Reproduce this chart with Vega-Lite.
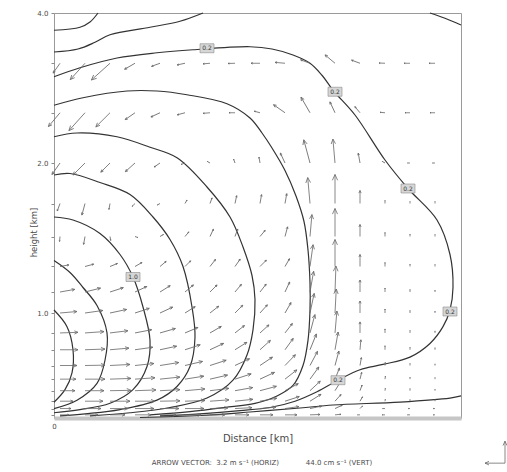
{
"$schema": "https://vega.github.io/schema/vega-lite/v6.json",
"width": 407,
"height": 405,
"autosize": {"type": "none"},
"padding": {"left": 54, "top": 13, "right": 46, "bottom": 54},
"background": "#ffffff",
"config": {"view": {"stroke": "#9a9a9a", "strokeWidth": 1}, "font": "DejaVu Sans"},
"datasets": {
"contours": [
{"c":"A","i":0,"x":0,"z":3.77},{"c":"A","i":1,"x":0.26,"z":3.81},{"c":"A","i":2,"x":0.36,"z":3.88},{"c":"A","i":3,"x":0.44,"z":4.0},
{"c":"B","i":0,"x":0,"z":3.48},{"c":"B","i":1,"x":0.24,"z":3.52},{"c":"B","i":2,"x":0.41,"z":3.61},{"c":"B","i":3,"x":0.56,"z":3.71},{"c":"B","i":4,"x":0.96,"z":3.81},{"c":"B","i":5,"x":1.26,"z":3.89},{"c":"B","i":6,"x":1.49,"z":4.0},
{"c":"C","i":0,"x":0,"z":3.15},{"c":"C","i":1,"x":0.26,"z":3.27},{"c":"C","i":2,"x":0.63,"z":3.40},{"c":"C","i":3,"x":1.03,"z":3.47},{"c":"C","i":4,"x":1.39,"z":3.51},{"c":"C","i":5,"x":1.96,"z":3.55},{"c":"C","i":6,"x":2.18,"z":3.52},{"c":"C","i":7,"x":2.39,"z":3.44},{"c":"C","i":8,"x":2.56,"z":3.33},{"c":"C","i":9,"x":2.68,"z":3.17},{"c":"C","i":10,"x":2.79,"z":2.97},{"c":"C","i":11,"x":3.01,"z":2.64},{"c":"C","i":12,"x":3.31,"z":2.04},{"c":"C","i":13,"x":3.54,"z":1.83},{"c":"C","i":14,"x":3.83,"z":1.62},{"c":"C","i":15,"x":3.96,"z":1.39},{"c":"C","i":16,"x":3.99,"z":1.17},{"c":"C","i":17,"x":3.96,"z":1.02},{"c":"C","i":18,"x":3.89,"z":0.87},{"c":"C","i":19,"x":3.76,"z":0.71},{"c":"C","i":20,"x":3.56,"z":0.58},{"c":"C","i":21,"x":3.29,"z":0.51},{"c":"C","i":22,"x":3.06,"z":0.46},{"c":"C","i":23,"x":2.84,"z":0.36},{"c":"C","i":24,"x":2.63,"z":0.25},{"c":"C","i":25,"x":2.41,"z":0.16},{"c":"C","i":26,"x":2.16,"z":0.10},{"c":"C","i":27,"x":1.86,"z":0.07},{"c":"C","i":28,"x":1.46,"z":0.04},{"c":"C","i":29,"x":1.06,"z":0.02},
{"c":"D","i":0,"x":0,"z":2.77},{"c":"D","i":1,"x":0.29,"z":2.87},{"c":"D","i":2,"x":0.73,"z":2.96},{"c":"D","i":3,"x":1.03,"z":2.96},{"c":"D","i":4,"x":1.33,"z":2.91},{"c":"D","i":5,"x":1.73,"z":2.79},{"c":"D","i":6,"x":1.96,"z":2.60},{"c":"D","i":7,"x":2.08,"z":2.40},{"c":"D","i":8,"x":2.18,"z":2.20},{"c":"D","i":9,"x":2.31,"z":1.95},{"c":"D","i":10,"x":2.42,"z":1.78},{"c":"D","i":11,"x":2.50,"z":1.61},{"c":"D","i":12,"x":2.54,"z":1.42},{"c":"D","i":13,"x":2.56,"z":1.20},{"c":"D","i":14,"x":2.56,"z":1.02},{"c":"D","i":15,"x":2.54,"z":0.74},{"c":"D","i":16,"x":2.49,"z":0.50},{"c":"D","i":17,"x":2.39,"z":0.31},{"c":"D","i":18,"x":2.23,"z":0.21},{"c":"D","i":19,"x":2.01,"z":0.14},{"c":"D","i":20,"x":1.71,"z":0.10},{"c":"D","i":21,"x":1.36,"z":0.06},{"c":"D","i":22,"x":0.96,"z":0.03},
{"c":"E","i":0,"x":0,"z":2.35},{"c":"E","i":1,"x":0.23,"z":2.40},{"c":"E","i":2,"x":0.63,"z":2.35},{"c":"E","i":3,"x":0.96,"z":2.21},{"c":"E","i":4,"x":1.23,"z":2.07},{"c":"E","i":5,"x":1.53,"z":1.84},{"c":"E","i":6,"x":1.76,"z":1.64},{"c":"E","i":7,"x":1.89,"z":1.44},{"c":"E","i":8,"x":1.98,"z":1.25},{"c":"E","i":9,"x":2.01,"z":1.09},{"c":"E","i":10,"x":1.99,"z":0.84},{"c":"E","i":11,"x":1.93,"z":0.60},{"c":"E","i":12,"x":1.79,"z":0.36},{"c":"E","i":13,"x":1.53,"z":0.19},{"c":"E","i":14,"x":1.16,"z":0.10},{"c":"E","i":15,"x":0.76,"z":0.05},{"c":"E","i":16,"x":0.36,"z":0.02},
{"c":"F","i":0,"x":0,"z":1.92},{"c":"F","i":1,"x":0.16,"z":1.93},{"c":"F","i":2,"x":0.46,"z":1.87},{"c":"F","i":3,"x":0.76,"z":1.79},{"c":"F","i":4,"x":0.99,"z":1.64},{"c":"F","i":5,"x":1.16,"z":1.49},{"c":"F","i":6,"x":1.29,"z":1.31},{"c":"F","i":7,"x":1.38,"z":1.04},{"c":"F","i":8,"x":1.41,"z":0.77},{"c":"F","i":9,"x":1.36,"z":0.49},{"c":"F","i":10,"x":1.23,"z":0.30},{"c":"F","i":11,"x":1.03,"z":0.17},{"c":"F","i":12,"x":0.66,"z":0.08},{"c":"F","i":13,"x":0.31,"z":0.04},{"c":"F","i":14,"x":0.06,"z":0.02},
{"c":"G","i":0,"x":0,"z":1.64},{"c":"G","i":1,"x":0.19,"z":1.62},{"c":"G","i":2,"x":0.46,"z":1.53},{"c":"G","i":3,"x":0.66,"z":1.39},{"c":"G","i":4,"x":0.79,"z":1.24},{"c":"G","i":5,"x":0.89,"z":1.04},{"c":"G","i":6,"x":0.96,"z":0.74},{"c":"G","i":7,"x":0.93,"z":0.49},{"c":"G","i":8,"x":0.79,"z":0.27},{"c":"G","i":9,"x":0.56,"z":0.14},{"c":"G","i":10,"x":0.26,"z":0.08},{"c":"G","i":11,"x":0,"z":0.05},
{"c":"H","i":0,"x":0,"z":1.35},{"c":"H","i":1,"x":0.16,"z":1.27},{"c":"H","i":2,"x":0.29,"z":1.17},{"c":"H","i":3,"x":0.43,"z":1.05},{"c":"H","i":4,"x":0.53,"z":0.81},{"c":"H","i":5,"x":0.51,"z":0.55},{"c":"H","i":6,"x":0.43,"z":0.33},{"c":"H","i":7,"x":0.23,"z":0.17},{"c":"H","i":8,"x":0,"z":0.09},
{"c":"I","i":0,"x":0,"z":1.02},{"c":"I","i":1,"x":0.13,"z":0.87},{"c":"I","i":2,"x":0.19,"z":0.65},{"c":"I","i":3,"x":0.18,"z":0.43},{"c":"I","i":4,"x":0.11,"z":0.27},{"c":"I","i":5,"x":0,"z":0.15},
{"c":"J","i":0,"x":0.86,"z":0.005},{"c":"J","i":1,"x":1.46,"z":0.024},{"c":"J","i":2,"x":1.96,"z":0.057},{"c":"J","i":3,"x":2.46,"z":0.095},{"c":"J","i":4,"x":2.79,"z":0.124},{"c":"J","i":5,"x":3.46,"z":0.152},{"c":"J","i":6,"x":3.96,"z":0.19},{"c":"J","i":7,"x":4.07,"z":0.21},
{"c":"K","i":0,"x":3.76,"z":4.0},{"c":"K","i":1,"x":3.91,"z":3.93},{"c":"K","i":2,"x":4.07,"z":3.84}
],
"clabels": [
{"x":1.53,"z":3.53,"t":"0.2"},{"x":2.81,"z":2.95,"t":"0.2"},{"x":3.54,"z":1.83,"t":"0.2"},{"x":3.96,"z":1.01,"t":"0.2"},{"x":2.84,"z":0.36,"t":"0.2"},{"x":0.79,"z":1.24,"t":"1.0"}
],
"key": [
{"x":4.51,"z":-0.43,"h":270,"m":1.0},{"x":4.51,"z":-0.43,"h":0,"m":1.1}
],
"keytext": [
{"x":2.08,"z":-0.43,"t":"ARROW VECTOR:\u00a0\u00a03.2 m s\u207b\u00b9 (HORIZ)\u00a0\u00a0\u00a0\u00a0\u00a0\u00a0\u00a0\u00a0\u00a0\u00a0\u00a0\u00a044.0 cm s\u207b\u00b9 (VERT)"}
],
"vectors": [
{"x":0.06,"z":0.03,"h":90,"m":0.45},{"x":0.31,"z":0.03,"h":90,"m":0.65},{"x":0.56,"z":0.03,"h":90,"m":0.75},{"x":0.81,"z":0.03,"h":90,"m":0.8},{"x":1.06,"z":0.03,"h":90,"m":0.8},{"x":1.31,"z":0.03,"h":90,"m":0.8},{"x":1.56,"z":0.03,"h":90,"m":0.75},{"x":1.81,"z":0.03,"h":90,"m":0.7},{"x":2.06,"z":0.03,"h":90,"m":0.65},{"x":2.31,"z":0.03,"h":90,"m":0.6},{"x":2.56,"z":0.03,"h":88,"m":0.5},{"x":2.81,"z":0.03,"h":85,"m":0.3},{"x":3.06,"z":0.03,"h":270,"m":0.12},{"x":3.31,"z":0.03,"h":270,"m":0.15},{"x":3.56,"z":0.03,"h":270,"m":0.12},{"x":3.81,"z":0.03,"h":270,"m":0.1},
{"x":0.06,"z":0.09,"h":90,"m":0.55},{"x":0.31,"z":0.09,"h":90,"m":0.8},{"x":0.56,"z":0.09,"h":90,"m":0.9},{"x":0.81,"z":0.09,"h":90,"m":0.95},{"x":1.06,"z":0.09,"h":90,"m":0.95},{"x":1.31,"z":0.09,"h":90,"m":0.95},{"x":1.56,"z":0.09,"h":88,"m":0.9},{"x":1.81,"z":0.09,"h":87,"m":0.85},{"x":2.06,"z":0.09,"h":85,"m":0.8},{"x":2.31,"z":0.09,"h":82,"m":0.7},{"x":2.56,"z":0.09,"h":78,"m":0.6},{"x":2.81,"z":0.09,"h":65,"m":0.4},{"x":3.06,"z":0.09,"h":45,"m":0.18},{"x":3.31,"z":0.09,"h":270,"m":0.12},{"x":3.56,"z":0.09,"h":270,"m":0.1},{"x":3.81,"z":0.09,"h":270,"m":0.1},
{"x":0.06,"z":0.16,"h":90,"m":0.65},{"x":0.31,"z":0.16,"h":90,"m":0.9},{"x":0.56,"z":0.16,"h":90,"m":1.0},{"x":0.81,"z":0.16,"h":90,"m":1.0},{"x":1.06,"z":0.16,"h":89,"m":1.0},{"x":1.31,"z":0.16,"h":88,"m":1.0},{"x":1.56,"z":0.16,"h":86,"m":0.95},{"x":1.81,"z":0.16,"h":84,"m":0.9},{"x":2.06,"z":0.16,"h":80,"m":0.85},{"x":2.31,"z":0.16,"h":72,"m":0.75},{"x":2.56,"z":0.16,"h":58,"m":0.65},{"x":2.81,"z":0.16,"h":42,"m":0.45},{"x":3.06,"z":0.16,"h":30,"m":0.25},{"x":3.31,"z":0.16,"h":10,"m":0.1},{"x":3.56,"z":0.16,"h":0,"m":0.08},{"x":3.81,"z":0.16,"h":0,"m":0.08},
{"x":0.06,"z":0.26,"h":90,"m":0.75},{"x":0.31,"z":0.26,"h":90,"m":0.95},{"x":0.56,"z":0.26,"h":89,"m":1.05},{"x":0.81,"z":0.26,"h":88,"m":1.05},{"x":1.06,"z":0.26,"h":87,"m":1.0},{"x":1.31,"z":0.26,"h":85,"m":1.0},{"x":1.56,"z":0.26,"h":83,"m":0.95},{"x":1.81,"z":0.26,"h":80,"m":0.9},{"x":2.06,"z":0.26,"h":75,"m":0.85},{"x":2.31,"z":0.26,"h":62,"m":0.75},{"x":2.56,"z":0.26,"h":47,"m":0.7},{"x":2.81,"z":0.26,"h":32,"m":0.55},{"x":3.06,"z":0.26,"h":20,"m":0.3},{"x":3.31,"z":0.26,"h":8,"m":0.12},{"x":3.56,"z":0.26,"h":0,"m":0.1},{"x":3.81,"z":0.26,"h":0,"m":0.08},
{"x":0.06,"z":0.37,"h":90,"m":0.8},{"x":0.31,"z":0.37,"h":90,"m":1.0},{"x":0.56,"z":0.37,"h":88,"m":1.05},{"x":0.81,"z":0.37,"h":86,"m":1.0},{"x":1.06,"z":0.37,"h":84,"m":1.0},{"x":1.31,"z":0.37,"h":81,"m":0.95},{"x":1.56,"z":0.37,"h":77,"m":0.9},{"x":1.81,"z":0.37,"h":72,"m":0.85},{"x":2.06,"z":0.37,"h":65,"m":0.8},{"x":2.31,"z":0.37,"h":52,"m":0.75},{"x":2.56,"z":0.37,"h":36,"m":0.75},{"x":2.81,"z":0.37,"h":22,"m":0.6},{"x":3.06,"z":0.37,"h":14,"m":0.35},{"x":3.31,"z":0.37,"h":8,"m":0.15},{"x":3.56,"z":0.37,"h":0,"m":0.1},{"x":3.81,"z":0.37,"h":0,"m":0.08},
{"x":0.06,"z":0.5,"h":90,"m":0.85},{"x":0.31,"z":0.5,"h":89,"m":1.0},{"x":0.56,"z":0.5,"h":87,"m":1.0},{"x":0.81,"z":0.5,"h":84,"m":0.95},{"x":1.06,"z":0.5,"h":81,"m":0.95},{"x":1.31,"z":0.5,"h":77,"m":0.9},{"x":1.56,"z":0.5,"h":72,"m":0.85},{"x":1.81,"z":0.5,"h":65,"m":0.8},{"x":2.06,"z":0.5,"h":56,"m":0.75},{"x":2.31,"z":0.5,"h":44,"m":0.75},{"x":2.56,"z":0.5,"h":28,"m":0.8},{"x":2.81,"z":0.5,"h":15,"m":0.75},{"x":3.06,"z":0.5,"h":10,"m":0.4},{"x":3.31,"z":0.5,"h":5,"m":0.15},{"x":3.56,"z":0.5,"h":0,"m":0.1},{"x":3.81,"z":0.5,"h":0,"m":0.08},
{"x":0.06,"z":0.65,"h":90,"m":0.9},{"x":0.31,"z":0.65,"h":88,"m":1.0},{"x":0.56,"z":0.65,"h":85,"m":0.95},{"x":0.81,"z":0.65,"h":82,"m":0.9},{"x":1.06,"z":0.65,"h":78,"m":0.85},{"x":1.31,"z":0.65,"h":72,"m":0.8},{"x":1.56,"z":0.65,"h":65,"m":0.75},{"x":1.81,"z":0.65,"h":58,"m":0.7},{"x":2.06,"z":0.65,"h":48,"m":0.7},{"x":2.31,"z":0.65,"h":36,"m":0.7},{"x":2.56,"z":0.65,"h":22,"m":0.85},{"x":2.81,"z":0.65,"h":10,"m":0.9},{"x":3.06,"z":0.65,"h":5,"m":0.5},{"x":3.31,"z":0.65,"h":0,"m":0.2},{"x":3.56,"z":0.65,"h":0,"m":0.12},{"x":3.81,"z":0.65,"h":0,"m":0.1},
{"x":0.06,"z":0.81,"h":88,"m":0.9},{"x":0.31,"z":0.81,"h":86,"m":0.95},{"x":0.56,"z":0.81,"h":83,"m":0.9},{"x":0.81,"z":0.81,"h":79,"m":0.85},{"x":1.06,"z":0.81,"h":74,"m":0.8},{"x":1.31,"z":0.81,"h":67,"m":0.7},{"x":1.56,"z":0.81,"h":60,"m":0.65},{"x":1.81,"z":0.81,"h":52,"m":0.6},{"x":2.06,"z":0.81,"h":48,"m":0.6},{"x":2.31,"z":0.81,"h":38,"m":0.6},{"x":2.56,"z":0.81,"h":15,"m":0.95},{"x":2.81,"z":0.81,"h":5,"m":1.1},{"x":3.06,"z":0.81,"h":0,"m":0.55},{"x":3.31,"z":0.81,"h":0,"m":0.2},{"x":3.56,"z":0.81,"h":0,"m":0.12},{"x":3.81,"z":0.81,"h":0,"m":0.1},
{"x":0.06,"z":1,"h":85,"m":0.85},{"x":0.31,"z":1,"h":82,"m":0.9},{"x":0.56,"z":1,"h":78,"m":0.85},{"x":0.81,"z":1,"h":72,"m":0.75},{"x":1.06,"z":1,"h":65,"m":0.7},{"x":1.31,"z":1,"h":58,"m":0.6},{"x":1.56,"z":1,"h":52,"m":0.55},{"x":1.81,"z":1,"h":45,"m":0.55},{"x":2.06,"z":1,"h":42,"m":0.55},{"x":2.31,"z":1,"h":30,"m":0.6},{"x":2.56,"z":1,"h":12,"m":1.0},{"x":2.81,"z":1,"h":3,"m":1.2},{"x":3.06,"z":1,"h":0,"m":0.6},{"x":3.31,"z":1,"h":0,"m":0.2},{"x":3.56,"z":1,"h":0,"m":0.12},{"x":3.81,"z":1,"h":0,"m":0.1},
{"x":0.06,"z":1.14,"h":80,"m":0.75},{"x":0.31,"z":1.14,"h":76,"m":0.8},{"x":0.56,"z":1.14,"h":72,"m":0.7},{"x":0.81,"z":1.14,"h":65,"m":0.65},{"x":1.06,"z":1.14,"h":58,"m":0.6},{"x":1.31,"z":1.14,"h":50,"m":0.55},{"x":1.56,"z":1.14,"h":45,"m":0.5},{"x":1.81,"z":1.14,"h":40,"m":0.5},{"x":2.06,"z":1.14,"h":38,"m":0.5},{"x":2.31,"z":1.14,"h":25,"m":0.55},{"x":2.56,"z":1.14,"h":10,"m":1.05},{"x":2.81,"z":1.14,"h":2,"m":1.3},{"x":3.06,"z":1.14,"h":0,"m":0.6},{"x":3.31,"z":1.14,"h":0,"m":0.2},{"x":3.56,"z":1.14,"h":0,"m":0.12},{"x":3.81,"z":1.14,"h":0,"m":0.1},
{"x":0.06,"z":1.31,"h":80,"m":0.45},{"x":0.31,"z":1.31,"h":75,"m":0.45},{"x":0.56,"z":1.31,"h":68,"m":0.4},{"x":0.81,"z":1.31,"h":60,"m":0.4},{"x":1.06,"z":1.31,"h":50,"m":0.4},{"x":1.31,"z":1.31,"h":45,"m":0.4},{"x":1.56,"z":1.31,"h":38,"m":0.45},{"x":1.81,"z":1.31,"h":35,"m":0.45},{"x":2.06,"z":1.31,"h":45,"m":0.45},{"x":2.31,"z":1.31,"h":30,"m":0.45},{"x":2.56,"z":1.31,"h":8,"m":1.1},{"x":2.81,"z":1.31,"h":0,"m":1.35},{"x":3.06,"z":1.31,"h":0,"m":0.6},{"x":3.31,"z":1.31,"h":0,"m":0.2},{"x":3.56,"z":1.31,"h":0,"m":0.12},{"x":3.81,"z":1.31,"h":0,"m":0.1},
{"x":0.06,"z":1.51,"h":185,"m":0.25},{"x":0.31,"z":1.51,"h":190,"m":0.4},{"x":0.56,"z":1.51,"h":170,"m":0.2},{"x":0.81,"z":1.51,"h":110,"m":0.15},{"x":1.06,"z":1.51,"h":60,"m":0.2},{"x":1.31,"z":1.51,"h":40,"m":0.3},{"x":1.56,"z":1.51,"h":25,"m":0.4},{"x":1.81,"z":1.51,"h":20,"m":0.4},{"x":2.06,"z":1.51,"h":40,"m":0.4},{"x":2.31,"z":1.51,"h":15,"m":0.5},{"x":2.56,"z":1.51,"h":5,"m":1.1},{"x":2.81,"z":1.51,"h":0,"m":1.4},{"x":3.06,"z":1.51,"h":0,"m":0.6},{"x":3.31,"z":1.51,"h":0,"m":0.2},{"x":3.56,"z":1.51,"h":0,"m":0.12},{"x":3.81,"z":1.51,"h":0,"m":0.1},
{"x":0.06,"z":1.73,"h":200,"m":0.4},{"x":0.31,"z":1.73,"h":195,"m":0.6},{"x":0.56,"z":1.73,"h":190,"m":0.3},{"x":0.81,"z":1.73,"h":225,"m":0.2},{"x":1.06,"z":1.73,"h":240,"m":0.15},{"x":1.31,"z":1.73,"h":30,"m":0.2},{"x":1.56,"z":1.73,"h":20,"m":0.3},{"x":1.81,"z":1.73,"h":12,"m":0.4},{"x":2.06,"z":1.73,"h":10,"m":0.45},{"x":2.31,"z":1.73,"h":10,"m":0.5},{"x":2.56,"z":1.73,"h":355,"m":1.3},{"x":2.81,"z":1.73,"h":0,"m":1.45},{"x":3.06,"z":1.73,"h":0,"m":0.65},{"x":3.31,"z":1.73,"h":0,"m":0.15},{"x":3.56,"z":1.73,"h":0,"m":0.1},{"x":3.81,"z":1.73,"h":0,"m":0.1},
{"x":0.06,"z":2,"h":215,"m":0.7},{"x":0.31,"z":2,"h":225,"m":0.85},{"x":0.56,"z":2,"h":225,"m":0.65},{"x":0.81,"z":2,"h":228,"m":0.65},{"x":1.06,"z":2,"h":235,"m":0.35},{"x":1.31,"z":2,"h":250,"m":0.2},{"x":1.56,"z":2,"h":300,"m":0.15},{"x":1.81,"z":2,"h":340,"m":0.2},{"x":2.06,"z":2,"h":350,"m":0.3},{"x":2.31,"z":2,"h":335,"m":0.55},{"x":2.56,"z":2,"h":345,"m":1.2},{"x":2.81,"z":2,"h":355,"m":1.2},{"x":3.06,"z":2,"h":350,"m":0.5},{"x":3.31,"z":2,"h":300,"m":0.15},{"x":3.56,"z":2,"h":270,"m":0.12},{"x":3.81,"z":2,"h":270,"m":0.12},
{"x":0.06,"z":2.67,"h":220,"m":0.9},{"x":0.31,"z":2.67,"h":222,"m":1.2},{"x":0.56,"z":2.67,"h":225,"m":1.0},{"x":0.81,"z":2.67,"h":235,"m":0.6},{"x":1.06,"z":2.67,"h":245,"m":0.5},{"x":1.31,"z":2.67,"h":255,"m":0.4},{"x":1.56,"z":2.67,"h":265,"m":0.35},{"x":1.81,"z":2.67,"h":270,"m":0.3},{"x":2.06,"z":2.67,"h":285,"m":0.3},{"x":2.31,"z":2.67,"h":305,"m":0.7},{"x":2.56,"z":2.67,"h":330,"m":0.9},{"x":2.81,"z":2.67,"h":335,"m":0.6},{"x":3.06,"z":2.67,"h":320,"m":0.4},{"x":3.31,"z":2.67,"h":275,"m":0.25},{"x":3.56,"z":2.67,"h":270,"m":0.25},{"x":3.81,"z":2.67,"h":270,"m":0.25},
{"x":0.06,"z":3.33,"h":215,"m":0.6},{"x":0.31,"z":3.33,"h":222,"m":1.1},{"x":0.56,"z":3.33,"h":228,"m":1.25},{"x":0.81,"z":3.33,"h":240,"m":0.6},{"x":1.06,"z":3.33,"h":250,"m":0.45},{"x":1.31,"z":3.33,"h":258,"m":0.4},{"x":1.56,"z":3.33,"h":265,"m":0.35},{"x":1.81,"z":3.33,"h":268,"m":0.35},{"x":2.06,"z":3.33,"h":270,"m":0.45},{"x":2.31,"z":3.33,"h":275,"m":0.5},{"x":2.56,"z":3.33,"h":290,"m":0.5},{"x":2.81,"z":3.33,"h":310,"m":0.65},{"x":3.06,"z":3.33,"h":290,"m":0.45},{"x":3.31,"z":3.33,"h":272,"m":0.3},{"x":3.56,"z":3.33,"h":270,"m":0.3},{"x":3.81,"z":3.33,"h":270,"m":0.3}
]
},
"encoding": {
"x": {"field": "x", "type": "quantitative", "scale": {"domain": [0, 4.07], "nice": false, "zero": false},
 "axis": {"title": "Distance [km]", "values": [0], "labelFontSize": 7, "labelColor": "#4a4a4a", "labelPadding": 4, "labelFlush": false, "ticks": false, "domainColor": "#c6c6c6", "domainWidth": 4, "grid": false, "titleFontSize": 10, "titleFontWeight": "normal", "titleColor": "#4a4a4a", "titleY": 15, "titleBaseline": "top"}},
"y": {"field": "z", "type": "quantitative", "scale": {"domain": [0, 1, 2, 4], "range": [405, 300, 150, 0], "nice": false, "zero": false},
 "axis": {"title": "height [km]", "values": [0.03, 0.09, 0.16, 0.26, 0.37, 0.5, 0.65, 0.81, 1, 1.14, 1.31, 1.51, 1.73, 2, 2.67, 3.33, 4], "labelExpr": "datum.value == 4 ? '4.0' : datum.value == 2 ? '2.0' : datum.value == 1 ? '1.0' : ''", "labelFontSize": 7, "labelColor": "#4a4a4a", "labelPadding": 3, "labelFlush": false, "labelOverlap": false, "tickSize": 3, "tickColor": "#8a8a8a", "domain": false, "grid": false, "titleFontSize": 8.5, "titleFontWeight": "normal", "titleColor": "#4a4a4a", "titleX": -16, "titleY": 219, "titleAngle": 270, "titleAlign": "center", "titleBaseline": "bottom"}}
},
"layer": [
{"data": {"name": "contours"}, "mark": {"type": "line", "interpolate": "catmull-rom", "color": "#333333", "strokeWidth": 1.2},
 "encoding": {"detail": {"field": "c", "type": "nominal"}, "order": {"field": "i", "type": "quantitative"}}},
{"data": {"name": "vectors"}, "mark": {"type": "point", "shape": "M0,0L0,-1M-0.09,-0.8L0,-1L0.09,-0.8", "filled": false, "color": "#6a6a6a", "strokeWidth": 0.8, "opacity": 1},
 "encoding": {"angle": {"field": "h", "type": "quantitative", "scale": {"domain": [0, 360], "range": [0, 360]}},
  "size": {"field": "m", "type": "quantitative", "scale": {"type": "pow", "exponent": 2, "domain": [0, 1], "range": [0, 1600]}, "legend": null}}},
{"data": {"name": "key"}, "mark": {"type": "point", "shape": "M0,0L0,-1M-0.09,-0.8L0,-1L0.09,-0.8", "filled": false, "color": "#6a6a6a", "strokeWidth": 0.8, "opacity": 1},
 "encoding": {"angle": {"field": "h", "type": "quantitative", "scale": {"domain": [0, 360], "range": [0, 360]}},
  "size": {"field": "m", "type": "quantitative", "scale": {"type": "pow", "exponent": 2, "domain": [0, 1], "range": [0, 1600]}, "legend": null}}},
{"data": {"name": "keytext"}, "mark": {"type": "text", "fontSize": 7, "color": "#4a4a4a", "align": "center", "baseline": "middle"}, "encoding": {"text": {"field": "t", "type": "nominal"}}},
{"data": {"name": "clabels"}, "mark": {"type": "point", "shape": "M-1.4,-0.9H1.4V0.9H-1.4Z", "filled": true, "fill": "#d6d6d6", "stroke": "#8a8a8a", "strokeWidth": 0.6, "size": 100, "opacity": 1}},
{"data": {"name": "clabels"}, "mark": {"type": "text", "fontSize": 6, "color": "#333333"}, "encoding": {"text": {"field": "t", "type": "nominal"}}}
]
}
